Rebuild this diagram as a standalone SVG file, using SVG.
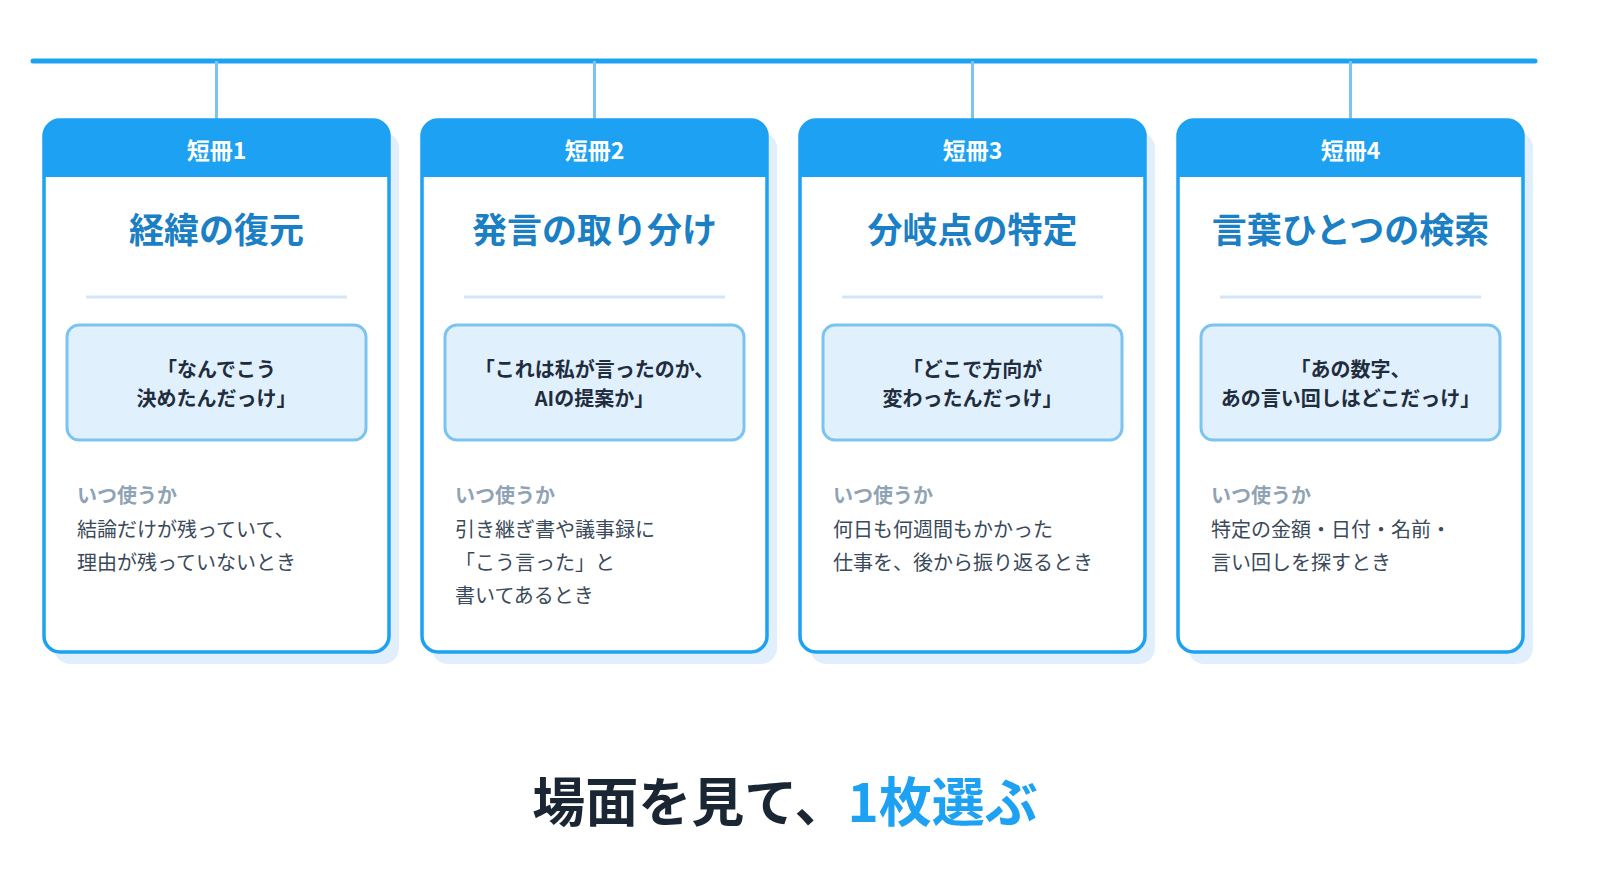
<svg xmlns="http://www.w3.org/2000/svg" width="1600" height="894" viewBox="0 0 1600 894">
<style>
text{font-family:"Noto Sans CJK JP","Noto Sans",sans-serif}
.sh{fill:#e1effd}
.card{fill:#fff;stroke:#1da1f2;stroke-width:3.5}
.hd{fill:#1da1f2}
.ht{fill:#fff;font-size:23px;font-weight:700;text-anchor:middle}
.tt{fill:#1a7fc4;font-size:35px;font-weight:700;text-anchor:middle}
.dv{stroke:#d3e5f8;stroke-width:3}
.qb{fill:#e1f0fd;stroke:#7cc4f0;stroke-width:3}
.qt{fill:#1f2d3d;font-size:20px;font-weight:700;text-anchor:middle}
.lb{fill:#8fa3b5;font-size:20px;font-weight:700}
.bd{fill:#3a4a5a;font-size:20px}
.drop{stroke:#7cc4f0;stroke-width:3}
</style>
<rect width="1600" height="894" fill="#fff"/>
<g id="connectors">
<line x1="33" y1="61" x2="1535" y2="61" stroke="#1da1f2" stroke-width="5" stroke-linecap="round"/>
<line class="drop" x1="216.5" y1="61" x2="216.5" y2="120"/>
<line class="drop" x1="594.5" y1="61" x2="594.5" y2="120"/>
<line class="drop" x1="972.5" y1="61" x2="972.5" y2="120"/>
<line class="drop" x1="1350.5" y1="61" x2="1350.5" y2="120"/>
</g>
<g id="card1">
<rect class="sh" x="54" y="132" width="345" height="532" rx="16"/>
<rect class="card" x="44" y="120" width="345" height="532" rx="16"/>
<path class="hd" d="M60,120 H373 A16,16 0 0 1 389,136 V177 H44 V136 A16,16 0 0 1 60,120 Z"/>
<text class="ht" x="216.5" y="159">短冊1</text>
<text class="tt" x="216.5" y="243">経緯の復元</text>
<line class="dv" x1="86" y1="297" x2="347" y2="297"/>
<rect class="qb" x="67" y="325" width="299" height="115" rx="12"/>
<text class="qt" x="216.5" y="377">「なんでこう</text>
<text class="qt" x="216.5" y="406">決めたんだっけ」</text>
<text class="lb" x="77" y="503">いつ使うか</text>
<text class="bd" x="77" y="537">結論だけが残っていて、</text>
<text class="bd" x="77" y="570">理由が残っていないとき</text>
</g>
<g id="card2">
<rect class="sh" x="432" y="132" width="345" height="532" rx="16"/>
<rect class="card" x="422" y="120" width="345" height="532" rx="16"/>
<path class="hd" d="M438,120 H751 A16,16 0 0 1 767,136 V177 H422 V136 A16,16 0 0 1 438,120 Z"/>
<text class="ht" x="594.5" y="159">短冊2</text>
<text class="tt" x="594.5" y="243">発言の取り分け</text>
<line class="dv" x1="464" y1="297" x2="725" y2="297"/>
<rect class="qb" x="445" y="325" width="299" height="115" rx="12"/>
<text class="qt" x="594.5" y="377">「これは私が言ったのか、</text>
<text class="qt" x="594.5" y="406">AIの提案か」</text>
<text class="lb" x="455" y="503">いつ使うか</text>
<text class="bd" x="455" y="537">引き継ぎ書や議事録に</text>
<text class="bd" x="455" y="570">「こう言った」と</text>
<text class="bd" x="455" y="603">書いてあるとき</text>
</g>
<g id="card3">
<rect class="sh" x="810" y="132" width="345" height="532" rx="16"/>
<rect class="card" x="800" y="120" width="345" height="532" rx="16"/>
<path class="hd" d="M816,120 H1129 A16,16 0 0 1 1145,136 V177 H800 V136 A16,16 0 0 1 816,120 Z"/>
<text class="ht" x="972.5" y="159">短冊3</text>
<text class="tt" x="972.5" y="243">分岐点の特定</text>
<line class="dv" x1="842" y1="297" x2="1103" y2="297"/>
<rect class="qb" x="823" y="325" width="299" height="115" rx="12"/>
<text class="qt" x="972.5" y="377">「どこで方向が</text>
<text class="qt" x="972.5" y="406">変わったんだっけ」</text>
<text class="lb" x="833" y="503">いつ使うか</text>
<text class="bd" x="833" y="537">何日も何週間もかかった</text>
<text class="bd" x="833" y="570">仕事を、後から振り返るとき</text>
</g>
<g id="card4">
<rect class="sh" x="1188" y="132" width="345" height="532" rx="16"/>
<rect class="card" x="1178" y="120" width="345" height="532" rx="16"/>
<path class="hd" d="M1194,120 H1507 A16,16 0 0 1 1523,136 V177 H1178 V136 A16,16 0 0 1 1194,120 Z"/>
<text class="ht" x="1350.5" y="159">短冊4</text>
<text class="tt" x="1350.5" y="243">言葉ひとつの検索</text>
<line class="dv" x1="1220" y1="297" x2="1481" y2="297"/>
<rect class="qb" x="1201" y="325" width="299" height="115" rx="12"/>
<text class="qt" x="1350.5" y="377">「あの数字、</text>
<text class="qt" x="1350.5" y="406">あの言い回しはどこだっけ」</text>
<text class="lb" x="1211" y="503">いつ使うか</text>
<text class="bd" x="1211" y="537">特定の金額・日付・名前・</text>
<text class="bd" x="1211" y="570">言い回しを探すとき</text>
</g>
<text x="785" y="822" text-anchor="middle" font-size="53" font-weight="700" fill="#1a2633" style="font-family:'Noto Sans CJK JP','Noto Sans',sans-serif">場面を見て、<tspan fill="#1da1f2">1枚選ぶ</tspan></text>
</svg>
